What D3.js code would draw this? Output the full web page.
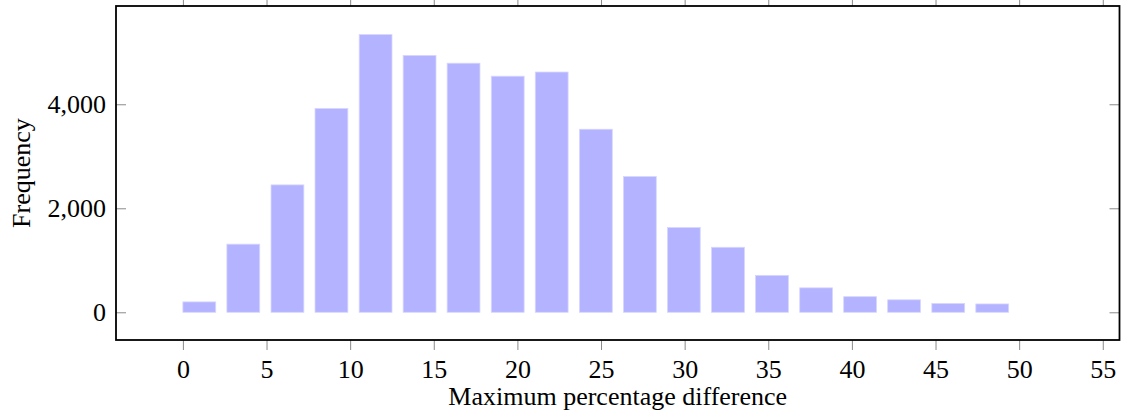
<!DOCTYPE html>
<html>
<head>
<meta charset="utf-8">
<script src="https://cdn.jsdelivr.net/npm/d3@7"></script>
<style>
  html, body { margin: 0; padding: 0; background: #fff; }
  svg { display: block; }
  text { font-family: "Liberation Serif", "DejaVu Serif", serif; fill: #000; }
</style>
</head>
<body>
<svg id="chart" width="1122" height="416"></svg>
<script>
// histogram bins: left edge of each bin and its count
const binStarts = [0, 2.63, 5.27, 7.9, 10.54, 13.17, 15.8, 18.44, 21.07, 23.71,
                   26.34, 28.97, 31.61, 34.24, 36.88, 39.51, 42.14, 44.78, 47.41];
const counts = [200, 1310, 2450, 3920, 5340, 4940, 4790, 4540, 4620, 3520,
                2610, 1630, 1250, 710, 470, 300, 240, 170, 160];
const xTicks = [0, 5, 10, 15, 20, 25, 30, 35, 40, 45, 50, 55];
const yTicks = [0, 2000, 4000];

const xLabel = "Maximum percentage difference";
const yLabel = "Frequency";

const svg = d3.select("#chart");
const plot = {left: 116, right: 1119.5, top: 6, bottom: 340};
const binWidth = 2.634;
const barFrac = 0.745;

const x = d3.scaleLinear().domain([-4, 56]).range([plot.left, plot.right]);
const y = d3.scaleLinear().domain([-533, 5890]).range([plot.bottom, plot.top]);

// bars
svg.append("g").selectAll("rect")
  .data(binStarts.map((s, i) => ({s, c: counts[i]})))
  .join("rect")
    .attr("x", d => x(d.s))
    .attr("width", d => x(d.s + binWidth * barFrac) - x(d.s))
    .attr("y", d => y(d.c))
    .attr("height", d => y(0) - y(d.c))
    .attr("fill", "#b3b3ff")
    .attr("stroke", "#d6d6ff")
    .attr("stroke-width", 0.8);

const tickStyle = g => {
  g.select(".domain").remove();
  g.selectAll(".tick line").attr("stroke", "#8a8a8a").attr("stroke-width", 1);
  g.selectAll(".tick text").style("font-size", "26px").attr("fill", "#000");
};

// bottom axis: ticks outside
svg.append("g")
  .attr("transform", `translate(0,${plot.bottom})`)
  .call(d3.axisBottom(x).tickValues(xTicks).tickSize(10).tickPadding(10).tickFormat(d3.format("d")))
  .call(tickStyle);

// top axis: ticks outside, no labels
svg.append("g")
  .attr("transform", `translate(0,${plot.top})`)
  .call(d3.axisTop(x).tickValues(xTicks).tickSize(10).tickFormat(""))
  .call(tickStyle);

// left axis: ticks inside
const yl = svg.append("g")
  .attr("transform", `translate(${plot.left},0)`)
  .call(d3.axisLeft(y).tickValues(yTicks).tickSize(-10).tickPadding(10).tickFormat(d3.format(",")))
  .call(tickStyle);

// right axis: ticks inside, no labels
svg.append("g")
  .attr("transform", `translate(${plot.right},0)`)
  .call(d3.axisRight(y).tickValues(yTicks).tickSize(-10).tickFormat(""))
  .call(tickStyle);

// frame
svg.append("rect")
  .attr("x", plot.left).attr("y", plot.top)
  .attr("width", plot.right - plot.left).attr("height", plot.bottom - plot.top)
  .attr("fill", "none").attr("stroke", "#000").attr("stroke-width", 1.8);

// axis labels
svg.append("text")
  .attr("x", (plot.left + plot.right) / 2).attr("y", 405)
  .attr("text-anchor", "middle").style("font-size", "26px")
  .text(xLabel);

svg.append("text")
  .attr("transform", `translate(30,${(plot.top + plot.bottom) / 2}) rotate(-90)`)
  .attr("text-anchor", "middle").style("font-size", "26px")
  .text(yLabel);
</script>
</body>
</html>
